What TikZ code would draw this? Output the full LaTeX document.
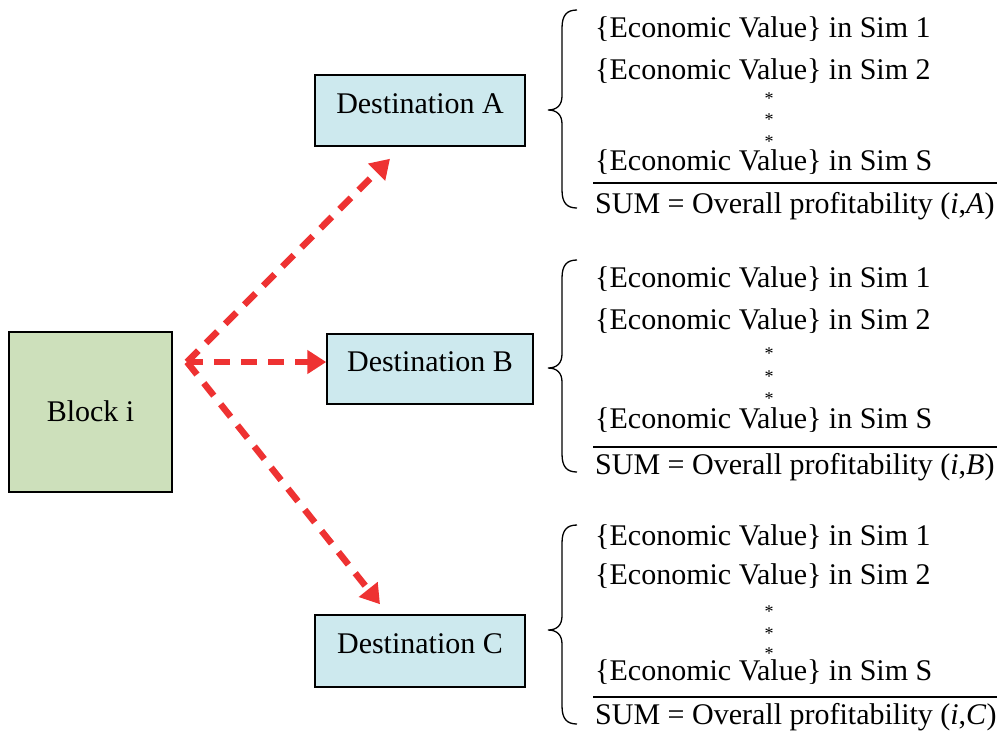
\documentclass[tikz,border=0pt]{standalone}
\usepackage{fontspec}
\setmainfont{Liberation Serif}
\usetikzlibrary{arrows.meta,calc}
\definecolor{boxblue}{RGB}{205,233,238}
\definecolor{boxgreen}{RGB}{205,224,187}
\definecolor{arrred}{RGB}{238,50,50}
\newcommand\mybrace[3]{%
  \draw[bracestyle] (577,#1) .. controls (567,#1) and (562,#1+5) .. (562,#1+18)
    -- (562,#2-14) .. controls (562,#2-5) and (557,#2) .. (548,#2)
    .. controls (557,#2) and (562,#2+5) .. (562,#2+14)
    -- (562,#3-18) .. controls (562,#3-5) and (567,#3) .. (577,#3);}
\begin{document}
\begin{tikzpicture}[x=1pt,y=-1pt,
  boxstyle/.style={draw=black, line width=1.5pt, inner sep=0pt},
  lbl/.style={font=\fontsize{30}{32}\selectfont, inner sep=0pt},
  evtext/.style={lbl, anchor=base west},
  starnode/.style={font=\fontsize{18}{20}\selectfont, inner sep=0pt, anchor=base},
  flow/.style={arrred, line width=6.5pt, dash pattern=on 16pt off 11pt,
    -{Triangle[length=19pt,width=23pt]}},
  bracestyle/.style={line width=1.3pt},
  rulestyle/.style={line width=1.1pt}]
\useasboundingbox (0,0) rectangle (1000,740);

% boxes
\node[boxstyle, fill=boxgreen, minimum width=163pt, minimum height=160pt] (blk) at (90.5,412) {};
\node[lbl, anchor=base] (blkl) at (90.5,421) {Block i};

\node[boxstyle, fill=boxblue, minimum width=210pt, minimum height=71pt] (A) at (420,110.5) {};
\node[lbl, anchor=base] (Al) at (420,113) {Destination A};

\node[boxstyle, fill=boxblue, minimum width=206pt, minimum height=70pt] (B) at (430,369) {};
\node[lbl, anchor=base] (Bl) at (430,371) {Destination B};

\node[boxstyle, fill=boxblue, minimum width=210pt, minimum height=72pt] (C) at (420,651) {};
\node[lbl, anchor=base] (Cl) at (420,653) {Destination C};

% arrows
\coordinate (src) at (187,362);
\draw[flow] (src) -- ([xshift=-30pt,yshift=-12pt]A.south);
\draw[flow] (src) -- ([yshift=7pt]B.west);
\draw[flow] (src) -- ([xshift=-40pt,yshift=10pt]C.north);

% group A
\mybrace{10}{110}{208}
\node[evtext] (a1) at (595,37) {\{Economic Value\} in Sim 1};
\node[evtext] (a2) at (595,79) {\{Economic Value\} in Sim 2};
\node[starnode] (as1) at (769,104) {*};
\node[starnode] (as2) at (769,125) {*};
\node[starnode] (as3) at (769,147) {*};
\node[evtext] (a3) at (595,170) {\{Economic Value\} in Sim S};
\draw[rulestyle] (593,183) -- (997,183);
\node[evtext] (a4) at (595,213) {SUM = Overall profitability (\textit{i},\textit{A})};

% group B
\mybrace{260}{368}{472}
\node[evtext] (b1) at (595,287) {\{Economic Value\} in Sim 1};
\node[evtext] (b2) at (595,329) {\{Economic Value\} in Sim 2};
\node[starnode] (bs1) at (769,359) {*};
\node[starnode] (bs2) at (769,382) {*};
\node[starnode] (bs3) at (769,404) {*};
\node[evtext] (b3) at (595,428) {\{Economic Value\} in Sim S};
\draw[rulestyle] (593,447) -- (997,447);
\node[evtext] (b4) at (595,474) {SUM = Overall profitability (\textit{i},\textit{B})};

% group C
\mybrace{525}{630}{724}
\node[evtext] (c1) at (595,545) {\{Economic Value\} in Sim 1};
\node[evtext] (c2) at (595,584) {\{Economic Value\} in Sim 2};
\node[starnode] (cs1) at (769,617) {*};
\node[starnode] (cs2) at (769,639) {*};
\node[starnode] (cs3) at (769,659) {*};
\node[evtext] (c3) at (595,680) {\{Economic Value\} in Sim S};
\draw[rulestyle] (593,697) -- (997,697);
\node[evtext] (c4) at (595,724) {SUM = Overall profitability (\textit{i},\textit{C})};
\end{tikzpicture}
\end{document}
